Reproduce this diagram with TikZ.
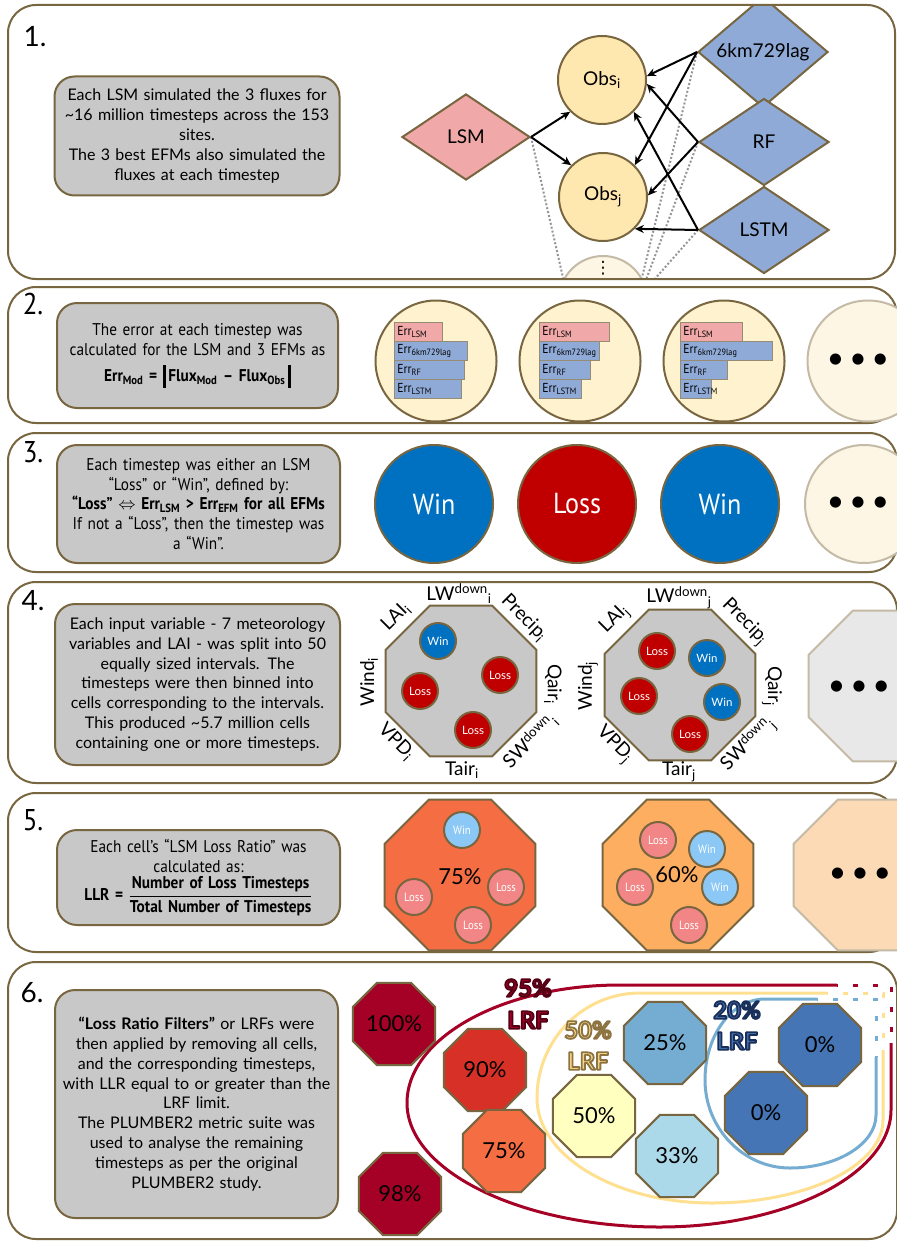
\documentclass[tikz,border=0pt]{standalone}
\usepackage{fontspec}
\setmainfont{Lato}
\newfontfamily\condf[FakeStretch=0.9]{PT Sans}
\newfontfamily\djv{DejaVu Sans}
\usetikzlibrary{shapes.geometric,arrows.meta}
\definecolor{brd}{RGB}{120,102,64}
\definecolor{boxg}{RGB}{200,200,200}
\definecolor{lsmpink}{RGB}{240,168,168}
\definecolor{efmblue}{RGB}{143,170,215}
\definecolor{obsfill}{RGB}{255,232,176}
\definecolor{ptwofill}{RGB}{255,242,206}
\definecolor{palefill}{RGB}{253,246,228}
\definecolor{palebrd}{RGB}{196,186,166}
\definecolor{winb}{RGB}{0,112,192}
\definecolor{lossr}{RGB}{192,0,0}
\definecolor{palegray}{RGB}{232,232,232}
\definecolor{ofa}{RGB}{244,109,67}
\definecolor{ofb}{RGB}{253,174,97}
\definecolor{paleor}{RGB}{252,218,182}
\definecolor{lwin}{RGB}{140,200,245}
\definecolor{lloss}{RGB}{242,134,134}
\definecolor{cA}{RGB}{165,0,38}
\definecolor{cB}{RGB}{215,48,39}
\definecolor{cC}{RGB}{244,109,67}
\definecolor{cD}{RGB}{255,255,191}
\definecolor{cE}{RGB}{116,173,209}
\definecolor{cF}{RGB}{171,217,233}
\definecolor{cG}{RGB}{69,117,180}
\definecolor{yloop}{RGB}{254,224,144}
\definecolor{bloop}{RGB}{116,173,209}
\definecolor{gdot}{RGB}{150,150,150}
\definecolor{errbrd}{RGB}{150,140,115}
% outlined text: #1 = stroke colour as "r g b" (0-1), #2 = fill colour, #3 = text
\newcommand{\outl}[3]{{\color{#2}\special{pdf:literal direct 2 Tr 1.8 w 1 j #1 RG}#3\special{pdf:literal direct 0 Tr}}}
\newcommand{\vbarr}{\raisebox{-6pt}{\rule{2.6pt}{23pt}}}
\newcommand{\errb}[6]{\node[errbox, fill=#5, minimum width=#4pt, anchor=north west] (#1) at (#2,#3) {\makebox[\dimexpr#4pt-6pt\relax][l]{Err\textsubscript{#6}}};}
\newcommand{\bdots}{\textbullet\hspace{5pt}\textbullet\hspace{5pt}\textbullet}
\begin{document}
\begin{tikzpicture}[x=1pt,y=-1pt,
  panel/.style={draw=brd, line width=2pt, rounded corners=28pt},
  num/.style={font=\fontsize{28}{30}\selectfont, inner sep=0pt},
  tbox/.style={draw=brd, line width=2pt, fill=boxg, rounded corners=20pt, align=center, inner sep=0pt, text width=280pt, font=\fontsize{16}{19.8}\selectfont},
  tboxc/.style={tbox, font=\condf\fontsize{17}{19.7}\selectfont},
  dia/.style={diamond, draw=brd, line width=2pt, inner sep=0pt, font=\fontsize{19}{20}\selectfont},
  obs/.style={circle, draw=brd, line width=2pt, fill=obsfill, minimum size=88pt, inner sep=0pt, font=\fontsize{19}{20}\selectfont},
  arr/.style={line width=2pt, -{Stealth[length=9pt,width=8pt]}},
  dotl/.style={gdot, line width=2pt, dash pattern=on 2pt off 2pt},
  ctwo/.style={circle, draw=brd, line width=2pt, fill=ptwofill, minimum size=121pt, inner sep=0pt},
  pale/.style={draw=palebrd, line width=2pt, fill=palefill},
  errbox/.style={draw=errbrd, line width=0.8pt, minimum height=19pt, inner xsep=3pt, inner ysep=0pt, font=\condf\fontsize{13}{13}\selectfont},
  wl/.style={circle, draw=brd, line width=2pt, minimum size=118pt, inner sep=0pt, text=white, font=\condf\fontsize{29}{30}\selectfont},
  bigdots/.style={font=\fontsize{30}{30}\selectfont, inner sep=0pt},
  octb/.style={regular polygon, regular polygon sides=8, draw=brd, line width=2pt, minimum size=163pt, inner sep=0pt},
  sc/.style={circle, draw=brd, line width=2pt, minimum size=36pt, inner sep=0pt, text=white, font=\fontsize{11.5}{12}\selectfont},
  scf/.style={circle, draw=brd, line width=2pt, minimum size=36pt, inner sep=0pt, text=white, font=\condf\fontsize{12}{12}\selectfont},
  lab/.style={font=\fontsize{19}{20}\selectfont, inner sep=0pt},
  octs/.style={regular polygon, regular polygon sides=8, draw=brd, line width=2pt, minimum size=89pt, inner sep=0pt, font=\fontsize{22}{24}\selectfont},
  loop/.style={line width=3pt},
  ldots/.style={line width=3pt, dash pattern=on 5pt off 15pt, dash phase=4pt},
  lrf/.style={font=\bfseries\fontsize{24}{26}\selectfont, inner sep=0pt}
]
\useasboundingbox (0,0) rectangle (896,1241);
\fill[white] (0,0) rectangle (896,1241);

% ---------------- Panel 1
\begin{scope}
\clip[rounded corners=28pt] (8,5) rectangle (895,279);
\node[tbox, minimum width=285pt, minimum height=119pt] (t1) at (197,136) {Each LSM simulated the 3 fluxes for\\ \textasciitilde16 million timesteps across the 153\\ sites.\\ The 3 best EFMs also simulated the\\ fluxes at each timestep};
\node[dia, fill=lsmpink, minimum width=128pt, minimum height=86pt] (lsm) at (466,137) {LSM};
\node[obs] (obsi) at (602,80) {Obs\textsubscript{i}};
\node[obs] (obsj) at (603,197) {Obs\textsubscript{j}};
\node[circle, pale, minimum size=88pt, inner sep=0pt] (obsk) at (603,300) {};
\node[font=\djv\fontsize{17}{17}\selectfont, inner sep=0pt] (vd) at (603,268) {⋮};
\node[dia, fill=efmblue, minimum width=130pt, minimum height=87pt] (d6) at (763,52) {6km729lag};
\node[dia, fill=efmblue, minimum width=130pt, minimum height=87pt] (drf) at (764,142) {RF};
\node[dia, fill=efmblue, minimum width=130pt, minimum height=87pt] (dlstm) at (764,230) {LSTM};
\draw[dotl] (lsm.east) -- (obsk.152);
\draw[dotl] (d6.west) -- (obsk.30);
\draw[dotl] (drf.west) -- (obsk.22);
\draw[dotl] (dlstm.west) -- (obsk.15);
\draw[arr] (lsm.east) -- (obsi.-135);
\draw[arr] (lsm.east) -- (obsj.135);
\draw[arr] (d6.west) -- (obsi.5);
\draw[arr] (d6.west) -- (obsj.45);
\draw[arr] (drf.west) -- (obsi.-5);
\draw[arr] (drf.west) -- (obsj.2);
\draw[arr] (dlstm.west) -- (obsi.-45);
\draw[arr] (dlstm.west) -- (obsj.-45);
\end{scope}
\draw[panel] (8,5) rectangle (895,279);
\node[num] (n1) at (35,37) {1.};

% ---------------- Panel 2
\draw[panel] (8,287) rectangle (897,423);
\node[num, font=\condf\fontsize{30}{30}\selectfont] (n2) at (33,304) {2.};
\node[tboxc, minimum width=281pt, minimum height=105pt] (t2) at (197.5,355.5) {The error at each timestep was\\ calculated for the LSM and 3 EFMs as\\[7pt] {\bfseries Err\textsubscript{Mod} = \vbarr\,Flux\textsubscript{Mod} – Flux\textsubscript{Obs}\,\vbarr}};
\node[ctwo] (ea) at (436,361) {};
\node[ctwo] (eb) at (580,361) {};
\node[ctwo] (ec) at (724,361) {};
\node[circle, pale, minimum size=121pt, inner sep=0pt] (ed) at (868,361) {};
\node[bigdots] (edd) at (858,361) {\bdots};
\errb{ea1}{394}{322}{48}{lsmpink}{LSM}
\errb{ea2}{394}{341}{73}{efmblue}{6km729lag}
\errb{ea3}{394}{360}{70}{efmblue}{RF}
\errb{ea4}{394}{379}{67}{efmblue}{LSTM}
\errb{eb1}{539}{322}{70}{lsmpink}{LSM}
\errb{eb2}{539}{341}{60}{efmblue}{6km729lag}
\errb{eb3}{539}{360}{51}{efmblue}{RF}
\errb{eb4}{539}{379}{42}{efmblue}{LSTM}
\errb{ec1}{680}{322}{62}{lsmpink}{LSM}
\errb{ec2}{680}{341}{92}{efmblue}{6km729lag}
\errb{ec3}{680}{360}{47}{efmblue}{RF}
\errb{ec4}{680}{379}{31}{efmblue}{LSTM}

% ---------------- Panel 3
\draw[panel] (8,433) rectangle (897,572);
\node[num, font=\condf\fontsize{30}{30}\selectfont] (n3) at (33,452) {3.};
\node[tboxc, minimum width=283pt, minimum height=118pt] (t3) at (198.5,504) {Each timestep was either an LSM\\ “Loss” or “Win”, defined by:\\ {\bfseries “Loss” $\Leftrightarrow$ Err\textsubscript{LSM} > Err\textsubscript{EFM} for all EFMs}\\ If not a “Loss”, then the timestep was\\ a “Win”.};
\node[wl, fill=winb] (wa) at (434,504) {Win};
\node[wl, fill=lossr] (la) at (577,504) {Loss};
\node[wl, fill=winb] (wb) at (720,504) {Win};
\node[circle, pale, minimum size=118pt, inner sep=0pt] (wd) at (864,504) {};
\node[bigdots] (wdd) at (858,504) {\bdots};

% ---------------- Panel 4
\draw[panel] (8,582) rectangle (897,783);
\node[num] (n4) at (33,601) {4.};
\node[tbox, minimum width=285pt, minimum height=161pt] (t4) at (197.5,684.5) {Each input variable - 7 meteorology\\ variables and LAI - was split into 50\\ equally sized intervals. The\\ timesteps were then binned into\\ cells corresponding to the intervals.\\ This produced \textasciitilde5.7 million cells\\ containing one or more timesteps.};
\node[octb, fill=boxg] (oa) at (461,681) {};
\node[octb, fill=boxg] (ob) at (680,685) {};
\node[octb, draw=palebrd, fill=palegray] (oc) at (884,686) {};
\node[bigdots] (ocd) at (859,688) {\bdots};
\node[sc, fill=winb] (oa1) at (438,641) {Win};
\node[sc, fill=lossr] (oa2) at (500,675) {Loss};
\node[sc, fill=lossr] (oa3) at (420,691) {Loss};
\node[sc, fill=lossr] (oa4) at (473,730) {Loss};
\node[sc, fill=lossr] (ob1) at (657,651) {Loss};
\node[sc, fill=winb] (ob2) at (707,658) {Win};
\node[sc, fill=lossr] (ob3) at (639,696) {Loss};
\node[sc, fill=winb] (ob4) at (722,702) {Win};
\node[sc, fill=lossr] (ob5) at (690,734) {Loss};
% labels octagon i
\node[lab] (la1) at (459,594) {LW\textsuperscript{down}\textsubscript{i}};
\node[lab, rotate=-45] (la2) at (524,618) {Precip\textsubscript{i}};
\node[lab, rotate=-90] (la3) at (553,684) {Qair\textsubscript{i}};
\node[lab, rotate=45] (la4) at (530,741) {SW\textsuperscript{down}\textsubscript{i}};
\node[lab] (la5) at (462,770) {Tair\textsubscript{i}};
\node[lab, rotate=-45] (la6) at (396,742) {VPD\textsubscript{i}};
\node[lab, rotate=90] (la7) at (369,682) {Wind\textsubscript{i}};
\node[lab, rotate=45] (la8) at (396,617) {LAI\textsubscript{i}};
% labels octagon j
\node[lab] (lb1) at (679,598) {LW\textsuperscript{down}\textsubscript{j}};
\node[lab, rotate=-45] (lb2) at (744,622) {Precip\textsubscript{j}};
\node[lab, rotate=-90] (lb3) at (772,686) {Qair\textsubscript{j}};
\node[lab, rotate=45] (lb4) at (748,744) {SW\textsuperscript{down}\textsubscript{j}};
\node[lab] (lb5) at (679,772) {Tair\textsubscript{j}};
\node[lab, rotate=-45] (lb6) at (614,745) {VPD\textsubscript{j}};
\node[lab, rotate=90] (lb7) at (588,686) {Wind\textsubscript{j}};
\node[lab, rotate=45] (lb8) at (615,620) {LAI\textsubscript{j}};

% ---------------- Panel 5
\draw[panel] (8,793) rectangle (897,952);
\node[num, font=\condf\fontsize{30}{30}\selectfont] (n5) at (33,820) {5.};
\node[tboxc, minimum width=283pt, minimum height=95pt] (t5) at (198.5,877.5) {Each cell’s “LSM Loss Ratio” was\\ calculated as:\\[3pt] {\bfseries LLR = $\displaystyle\frac{\mbox{\bfseries Number of Loss Timesteps}}{\mbox{\bfseries Total Number of Timesteps}}$}};
\node[octb, fill=ofa, minimum size=163pt] (pa) at (460,875) {};
\node[octb, fill=ofb, minimum size=163pt] (pb) at (678,875) {};
\node[octb, draw=palebrd, fill=paleor, minimum size=163pt] (pc) at (869,875) {};
\node[bigdots] (pcd) at (860,875) {\bdots};
\node[font=\fontsize{22}{24}\selectfont, inner sep=0pt] (pat) at (460,877) {75\%};
\node[font=\fontsize{22}{24}\selectfont, inner sep=0pt] (pbt) at (677,875) {60\%};
\node[scf, fill=lwin] (pa1) at (462,830) {Win};
\node[scf, fill=lloss] (pa2) at (506,887) {Loss};
\node[scf, fill=lloss] (pa3) at (414,897) {Loss};
\node[scf, fill=lloss] (pa4) at (473,925) {Loss};
\node[scf, fill=lloss] (pb1) at (658,840) {Loss};
\node[scf, fill=lwin] (pb2) at (707,849) {Win};
\node[scf, fill=lloss] (pb3) at (635,887) {Loss};
\node[scf, fill=lwin] (pb4) at (720,887) {Win};
\node[scf, fill=lloss] (pb5) at (689,925) {Loss};

% ---------------- Panel 6
\draw[panel] (8,962) rectangle (897,1239);
\node[num] (n6) at (32,993) {6.};
\node[tbox, minimum width=283pt, minimum height=228pt] (t6) at (196.5,1104) {{\bfseries “Loss Ratio Filters”} or LRFs were\\ then applied by removing all cells,\\ and the corresponding timesteps,\\ with LLR equal to or greater than the\\ LRF limit.\\ The PLUMBER2 metric suite was\\ used to analyse the remaining\\ timesteps as per the original\\ PLUMBER2 study.};
% loops
\draw[loop, cA] (891,1043) -- (891,1110) .. controls (891,1174) and (787,1227) .. (660,1227) .. controls (521,1227) and (407,1171) .. (407,1103) .. controls (407,1038) and (502,985) .. (620,985) -- (837,985);
\draw[ldots, cA] (837,985) -- (891,985) -- (891,1043);
\draw[loop, yloop] (883,1050) -- (883,1120) .. controls (883,1166) and (806,1203) .. (712,1203) .. controls (616,1203) and (537,1156) .. (537,1098) .. controls (537,1040) and (583,993) .. (640,993) -- (827,993);
\draw[ldots, yloop] (827,993) -- (883,993) -- (883,1050);
\draw[loop, bloop] (876,1057) -- (876,1115) .. controls (876,1144) and (837,1168) .. (790,1168) .. controls (743,1168) and (705,1128) .. (705,1080) .. controls (705,1035) and (732,999) .. (765,999) -- (817,999);
\draw[ldots, bloop] (817,999) -- (876,999) -- (876,1057);
% octagons
\node[octs, fill=cA] (q100) at (394,1024) {100\%};
\node[octs, fill=cA] (q98) at (400,1194) {98\%};
\node[octs, fill=cB] (q90) at (485,1070) {90\%};
\node[octs, fill=cC] (q75) at (504,1151) {75\%};
\node[octs, fill=cD] (q50) at (594,1116) {50\%};
\node[octs, fill=cE] (q25) at (665,1043) {25\%};
\node[octs, fill=cF] (q33) at (677,1156) {33\%};
\node[octs, fill=cG] (q0a) at (820,1045) {0\%};
\node[octs, fill=cG] (q0b) at (766,1113) {0\%};
% LRF labels
\node[lrf] (r95a) at (528,988) {\outl{0.33 0 0.08}{cA}{95\%}};
\node[lrf] (r95b) at (528,1020) {\outl{0.33 0 0.08}{cA}{LRF}};
\node[lrf] (r50a) at (588,1030) {\outl{0.55 0.45 0.25}{yloop}{50\%}};
\node[lrf] (r50b) at (588,1061) {\outl{0.55 0.45 0.25}{yloop}{LRF}};
\node[lrf] (r20a) at (737,1010) {\outl{0.1 0.18 0.35}{cG}{20\%}};
\node[lrf] (r20b) at (737,1041) {\outl{0.1 0.18 0.35}{cG}{LRF}};
\end{tikzpicture}
\end{document}
